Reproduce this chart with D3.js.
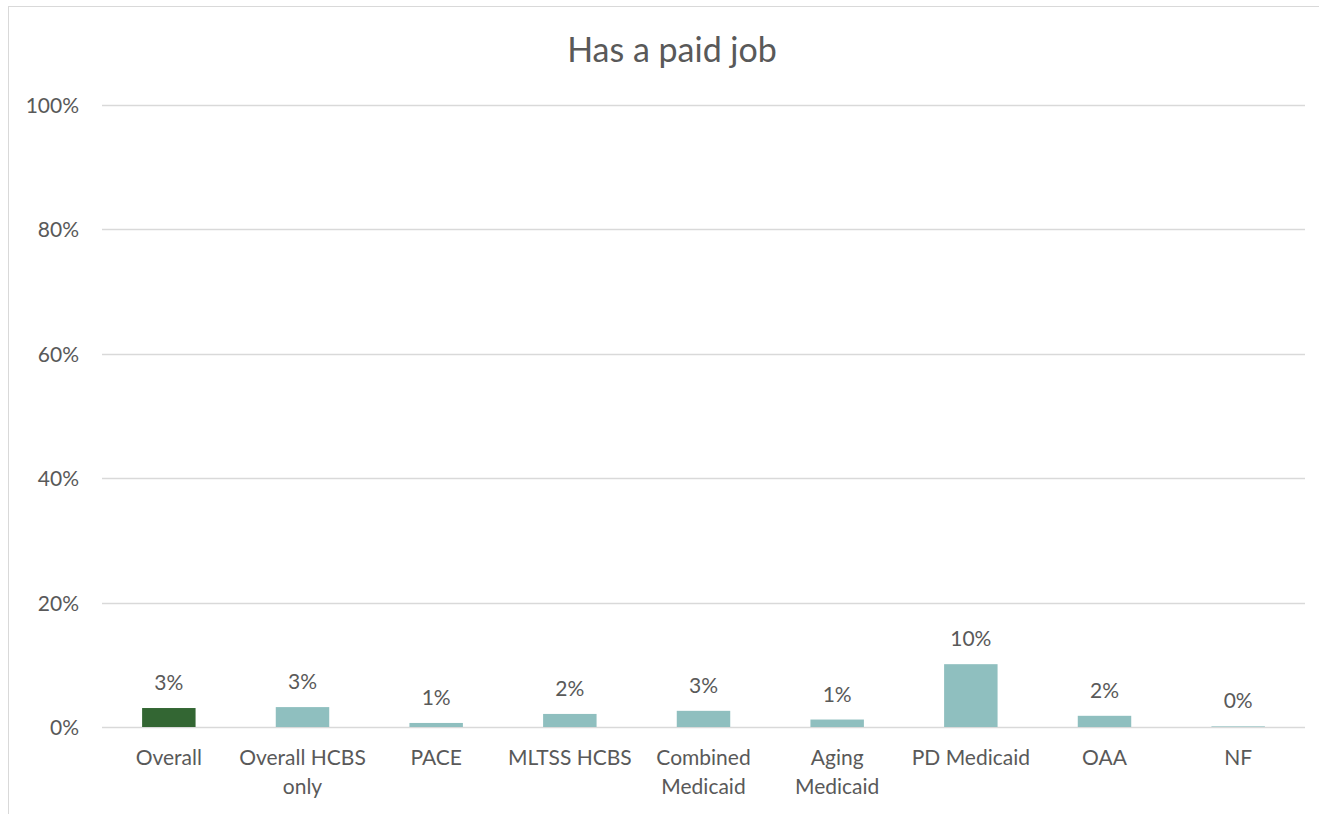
<!DOCTYPE html>
<html>
<head>
<meta charset="utf-8">
<script src="https://cdn.jsdelivr.net/npm/d3@7"></script>
<style>
  html, body { margin: 0; padding: 0; background: #fff; }
  svg { display: block; }
  text { font-family: "Lato", "Open Sans", sans-serif; fill: #595959; }
</style>
</head>
<body>
<svg id="chart" width="1319" height="814"></svg>
<script>
const title = "Has a paid job";
const categories = ["Overall", "Overall HCBS only", "PACE", "MLTSS HCBS", "Combined Medicaid", "Aging Medicaid", "PD Medicaid", "OAA", "NF"];
const categoryLines = [["Overall"], ["Overall HCBS", "only"], ["PACE"], ["MLTSS HCBS"], ["Combined", "Medicaid"], ["Aging", "Medicaid"], ["PD Medicaid"], ["OAA"], ["NF"]];
const values = [3.05, 3.2, 0.65, 2.1, 2.6, 1.2, 10.1, 1.8, 0.1];
const yTicks = [0, 20, 40, 60, 80, 100];

const svg = d3.select("#chart");
const margin = { left: 102, right: 1305, top: 105, bottom: 727 };
const fs = "21px";

// outer chart frame (clipped at right/bottom like the reference)
svg.append("rect").attr("x", 8.5).attr("y", 6.5).attr("width", 1330).attr("height", 830)
  .attr("fill", "none").attr("stroke", "#d9d9d9").attr("stroke-width", 1);

const x = d3.scaleBand().domain(categories).range([margin.left, margin.right]).paddingInner(0.6).paddingOuter(0.3);
const y = d3.scaleLinear().domain([0, 100]).range([margin.bottom, margin.top]);

// gridlines
svg.append("g").selectAll("line").data(yTicks).join("line")
  .attr("x1", margin.left).attr("x2", margin.right)
  .attr("y1", d => Math.round(y(d)) + 0.5).attr("y2", d => Math.round(y(d)) + 0.5)
  .attr("stroke", "#d9d9d9").attr("stroke-width", 1.3);

// y axis labels
const yAxis = d3.axisLeft(y).tickValues(yTicks).tickFormat(d => d + "%").tickSize(0).tickPadding(0);
const ya = svg.append("g").attr("transform", `translate(79,0)`).call(yAxis);
ya.select(".domain").remove();
ya.selectAll("text").style("font-size", fs).style("font-family", "Lato, sans-serif").attr("fill", "#595959").attr("dy", "0.36em");

// bars
svg.append("g").selectAll("rect").data(values).join("rect")
  .attr("x", (d, i) => x(categories[i]))
  .attr("width", x.bandwidth())
  .attr("y", d => y(d))
  .attr("height", d => y(0) - y(d))
  .attr("fill", (d, i) => i === 0 ? "#336633" : "#8fbfbf");

// data labels
svg.append("g").selectAll("text").data(values).join("text")
  .attr("x", (d, i) => x(categories[i]) + x.bandwidth() / 2)
  .attr("y", d => y(d) - 18)
  .attr("text-anchor", "middle")
  .style("font-size", fs)
  .text(d => Math.round(d) + "%");

// x labels
const xl = svg.append("g").selectAll("text").data(categoryLines).join("text")
  .attr("text-anchor", "middle")
  .attr("x", (d, i) => x(categories[i]) + x.bandwidth() / 2)
  .attr("y", 765)
  .style("font-size", fs);
xl.selectAll("tspan").data(d => d).join("tspan")
  .attr("x", function() { return d3.select(this.parentNode).attr("x"); })
  .attr("dy", (d, i) => i === 0 ? 0 : 29)
  .text(d => d);

// title
svg.append("text").attr("x", 672).attr("y", 62).attr("text-anchor", "middle")
  .style("font-size", "34px").text(title);
</script>
</body>
</html>
